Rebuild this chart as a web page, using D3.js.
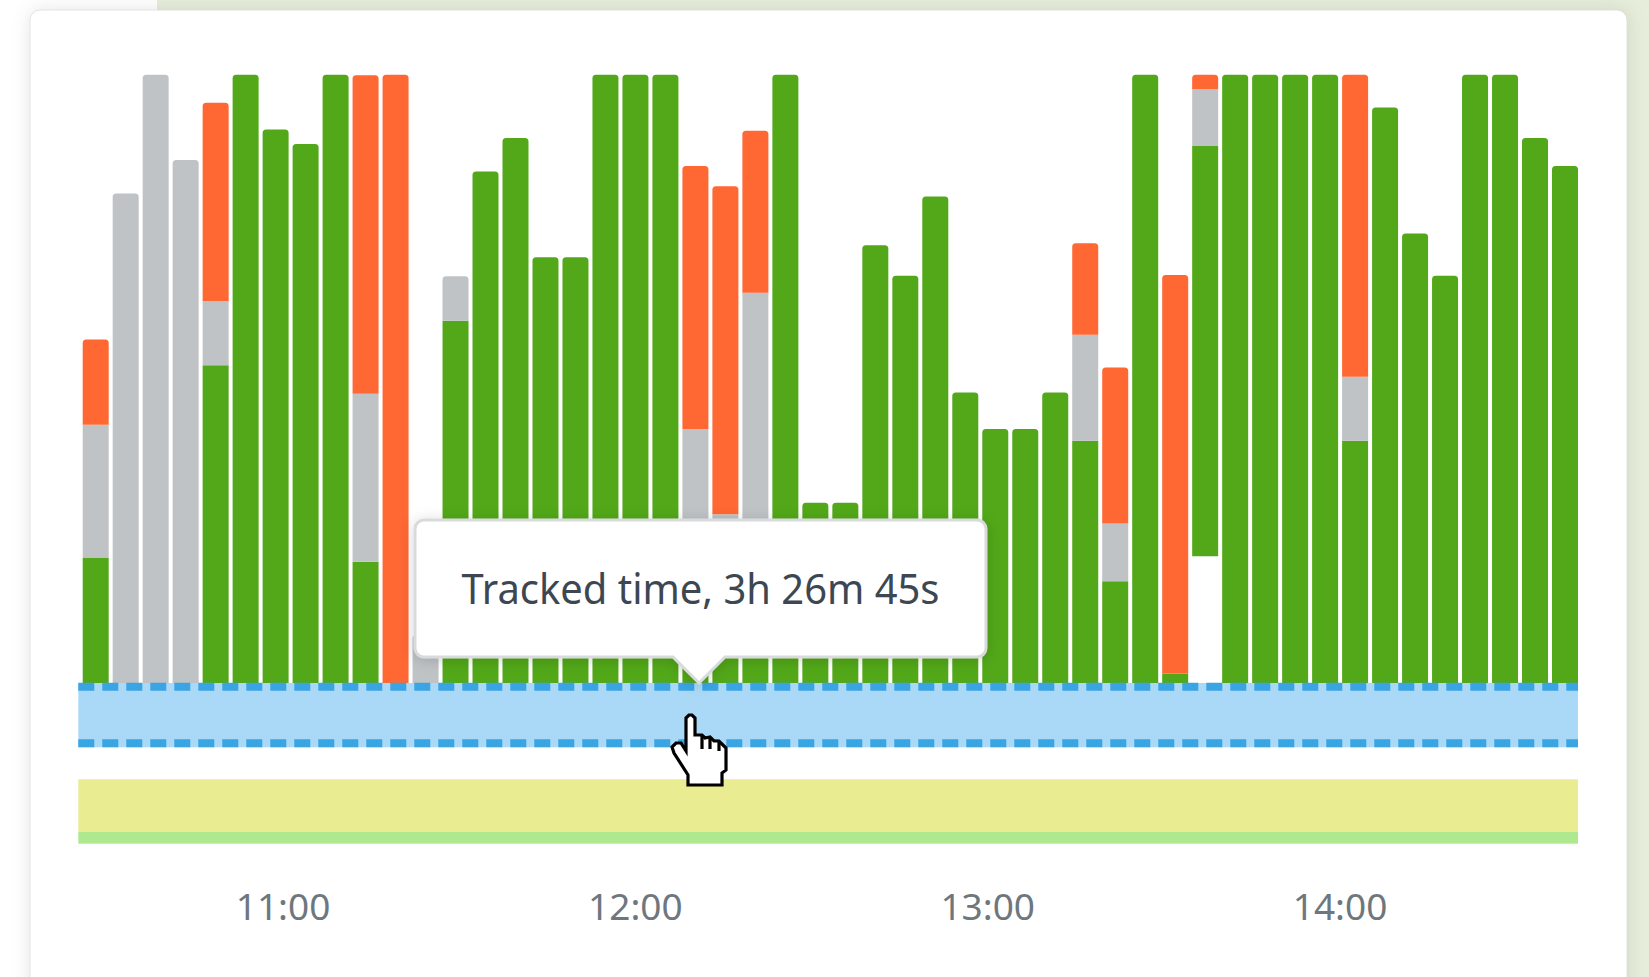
<!DOCTYPE html>
<html>
<head>
<meta charset="utf-8">
<style>
  html, body { margin: 0; padding: 0; background: #fff; overflow: hidden; }
  .tick text { font-family: "Noto Sans", sans-serif; }
</style>
<script src="https://cdnjs.cloudflare.com/ajax/libs/d3/7.8.5/d3.min.js"></script>
</head>
<body>
<svg id="chart" width="1649" height="977"></svg>
<script>
// one entry per time slot, % of the slot (idle = empty space under a floating bar)
const slots = d3.range(50);
const idle = [0,0,0,0,0,0,0,0,0,0,0,0,0,0,0,0,0,0,0,0,0,0,0,0,0,0,0,0,0,0,0,0,0,0,0,0,0,20.9,0,0,0,0,0,0,0,0,0,0,0,0];
const tracked = [20.7,0,0,0,52.3,100,91,88.6,100,20,0,0,59.6,84.1,89.6,70,70,100,100,100,22.5,24.2,24.2,100,29.7,29.7,72,67,80,47.8,41.8,41.8,47.8,39.9,16.8,100,1.6,67.4,100,100,100,100,39.9,94.6,73.9,67,100,100,89.6,85];
const neutral = [21.8,80.5,100,86,10.5,0,0,0,0,27.6,0,8,7.3,0,0,0,0,0,0,0,19.3,3.6,40,0,0,0,0,0,0,0,0,0,0,17.4,9.5,0,0,9.3,0,0,0,0,10.5,0,0,0,0,0,0,0];
const distracted = [14,0,0,0,32.6,0,0,0,0,52.3,100,0,0,0,0,0,0,0,0,0,43.2,53.9,26.6,0,0,0,0,0,0,0,0,0,0,15,25.6,0,65.5,2.4,0,0,0,0,49.6,0,0,0,0,0,0,0];
const hours = ["11:00", "12:00", "13:00", "14:00"];
const tooltipLabel = "Tracked time, 3h 26m 45s";

const colors = { idle: "none", tracked: "#52a818", neutral: "#c0c3c6", distracted: "#ff6733" };

const svg = d3.select("#chart");

const barLeft = 82.7, right = 1578, stripLeft = 78.3;
const baseY = 683.6, topY = 74.7;

const x = d3.scaleBand().domain(slots).range([barLeft, right]).paddingInner(0.133);
const y = d3.scaleLinear().domain([0, 100]).range([baseY, topY]);
const timeX = d3.scaleTime()
    .domain([new Date(2020, 0, 1, 11), new Date(2020, 0, 1, 14)])
    .range([282.5, 1339.5]);

// page behind the card
svg.append("rect").attr("x", 157).attr("y", 0).attr("width", 1492).attr("height", 12).attr("fill", "#e6edda");
svg.append("rect").attr("x", 1620).attr("y", 0).attr("width", 29).attr("height", 977).attr("fill", "#e6edda");

const defs = svg.append("defs");
const cardShadow = defs.append("filter").attr("id", "cardShadow")
    .attr("x", "-5%").attr("y", "-5%").attr("width", "110%").attr("height", "110%");
cardShadow.append("feDropShadow").attr("dx", 0).attr("dy", 0).attr("stdDeviation", 9)
    .attr("flood-color", "#000").attr("flood-opacity", 0.1);
const tipShadow = defs.append("filter").attr("id", "tipShadow")
    .attr("x", "-10%").attr("y", "-20%").attr("width", "120%").attr("height", "140%");
tipShadow.append("feDropShadow").attr("dx", 0).attr("dy", 2).attr("stdDeviation", 7)
    .attr("flood-color", "#000").attr("flood-opacity", 0.16);

svg.append("rect")
    .attr("x", 30).attr("y", 10).attr("width", 1597).attr("height", 1000).attr("rx", 10)
    .attr("fill", "#fff").attr("stroke", "#cfd2cd").attr("stroke-width", 0.6)
    .attr("filter", "url(#cardShadow)");

// bars
const table = slots.map(i => ({ slot: i, idle: idle[i], tracked: tracked[i], neutral: neutral[i], distracted: distracted[i] }));
const keys = ["idle", "tracked", "neutral", "distracted"];
const series = d3.stack().keys(keys)(table);

const segment = (x0, y0, w, h, r) => {
    const p = d3.path();
    p.moveTo(x0, y0 + h);
    p.lineTo(x0, y0 + r);
    p.arcTo(x0, y0, x0 + r, y0, r);
    p.lineTo(x0 + w - r, y0);
    p.arcTo(x0 + w, y0, x0 + w, y0 + r, r);
    p.lineTo(x0 + w, y0 + h);
    p.closePath();
    return p.toString();
};

const isTop = (key, d) => keys.slice(keys.indexOf(key) + 1).every(k => d.data[k] === 0);

svg.append("g").selectAll("g")
    .data(series.filter(s => s.key !== "idle"))
    .enter().append("g")
    .attr("fill", s => colors[s.key])
    .each(function (s) {
        d3.select(this).selectAll("path")
            .data(s.filter(d => d[1] > d[0]))
            .enter().append("path")
            .attr("d", d => segment(x(d.data.slot), y(d[1]), x.bandwidth(), y(d[0]) - y(d[1]), isTop(s.key, d) ? 3.5 : 0));
    });

// strips under the bars
const stripW = right - stripLeft;
svg.append("rect").attr("x", stripLeft).attr("y", 683).attr("width", stripW).attr("height", 64.3).attr("fill", "#aad9f7");
[686.8, 743.2].forEach(lineY => {
    svg.append("line")
        .attr("x1", stripLeft).attr("x2", right)
        .attr("y1", lineY).attr("y2", lineY)
        .attr("stroke", "#3ba4e3").attr("stroke-width", 8)
        .attr("stroke-dasharray", "16 8");
});
svg.append("rect").attr("x", stripLeft).attr("y", 779.3).attr("width", stripW).attr("height", 52.4).attr("fill", "#e9ec90");
svg.append("rect").attr("x", stripLeft).attr("y", 831.7).attr("width", stripW).attr("height", 12).attr("fill", "#aee98f");

// hour axis
const axis = svg.append("g")
    .attr("transform", "translate(0,894)")
    .call(d3.axisBottom(timeX)
        .tickValues(hours.map(h => new Date(2020, 0, 1, +h.split(":")[0])))
        .tickFormat(d3.timeFormat("%H:%M"))
        .tickSize(0)
        .tickPadding(0));
axis.select(".domain").remove();
axis.selectAll("text")
    .attr("y", 0).attr("dy", "0.71em")
    .attr("fill", "#6e777d")
    .style("font-size", "37px");

// tooltip
const tipL = 415, tipR = 986, tipT = 520, tipB = 657, tipX = 699, tipY = 683, rad = 9;
const tip = d3.path();
tip.moveTo(tipL + rad, tipT);
tip.lineTo(tipR - rad, tipT);
tip.arcTo(tipR, tipT, tipR, tipT + rad, rad);
tip.lineTo(tipR, tipB - rad);
tip.arcTo(tipR, tipB, tipR - rad, tipB, rad);
tip.lineTo(tipX + 26, tipB);
tip.lineTo(tipX, tipY);
tip.lineTo(tipX - 26, tipB);
tip.lineTo(tipL + rad, tipB);
tip.arcTo(tipL, tipB, tipL, tipB - rad, rad);
tip.lineTo(tipL, tipT + rad);
tip.arcTo(tipL, tipT, tipL + rad, tipT, rad);
tip.closePath();

svg.append("path")
    .attr("d", tip.toString())
    .attr("fill", "#fff").attr("stroke", "#d8dadb").attr("stroke-width", 3)
    .attr("filter", "url(#tipShadow)");

svg.append("text")
    .attr("x", tipX + 1.5).attr("y", 604)
    .attr("text-anchor", "middle")
    .attr("fill", "#3d4752")
    .style("font-family", "'Noto Sans', sans-serif")
    .style("font-size", "41px")
    .attr("textLength", 478)
    .attr("lengthAdjust", "spacingAndGlyphs")
    .text(tooltipLabel);

// hand cursor
const hand = svg.append("g").attr("transform", "translate(672,715)")
    .attr("fill", "#fff").attr("stroke", "#000").attr("stroke-width", 3.2).attr("stroke-linejoin", "miter");
hand.append("path").attr("d", "M14 3 L17 0 L20 0 L23 3 L23 20 L30 20 L33 23 L38 22 L42 26 L47 26 L54 33 L54 55 L50 58 L50 70 L16 70 L16 60 L2 38 L0 32 L4 28 L9 28 L14 36 Z");
hand.append("path").attr("fill", "none").attr("d", "M30 20 L30 34 M38 22 L38 34 M47 26 L47 36");
</script>
</body>
</html>
